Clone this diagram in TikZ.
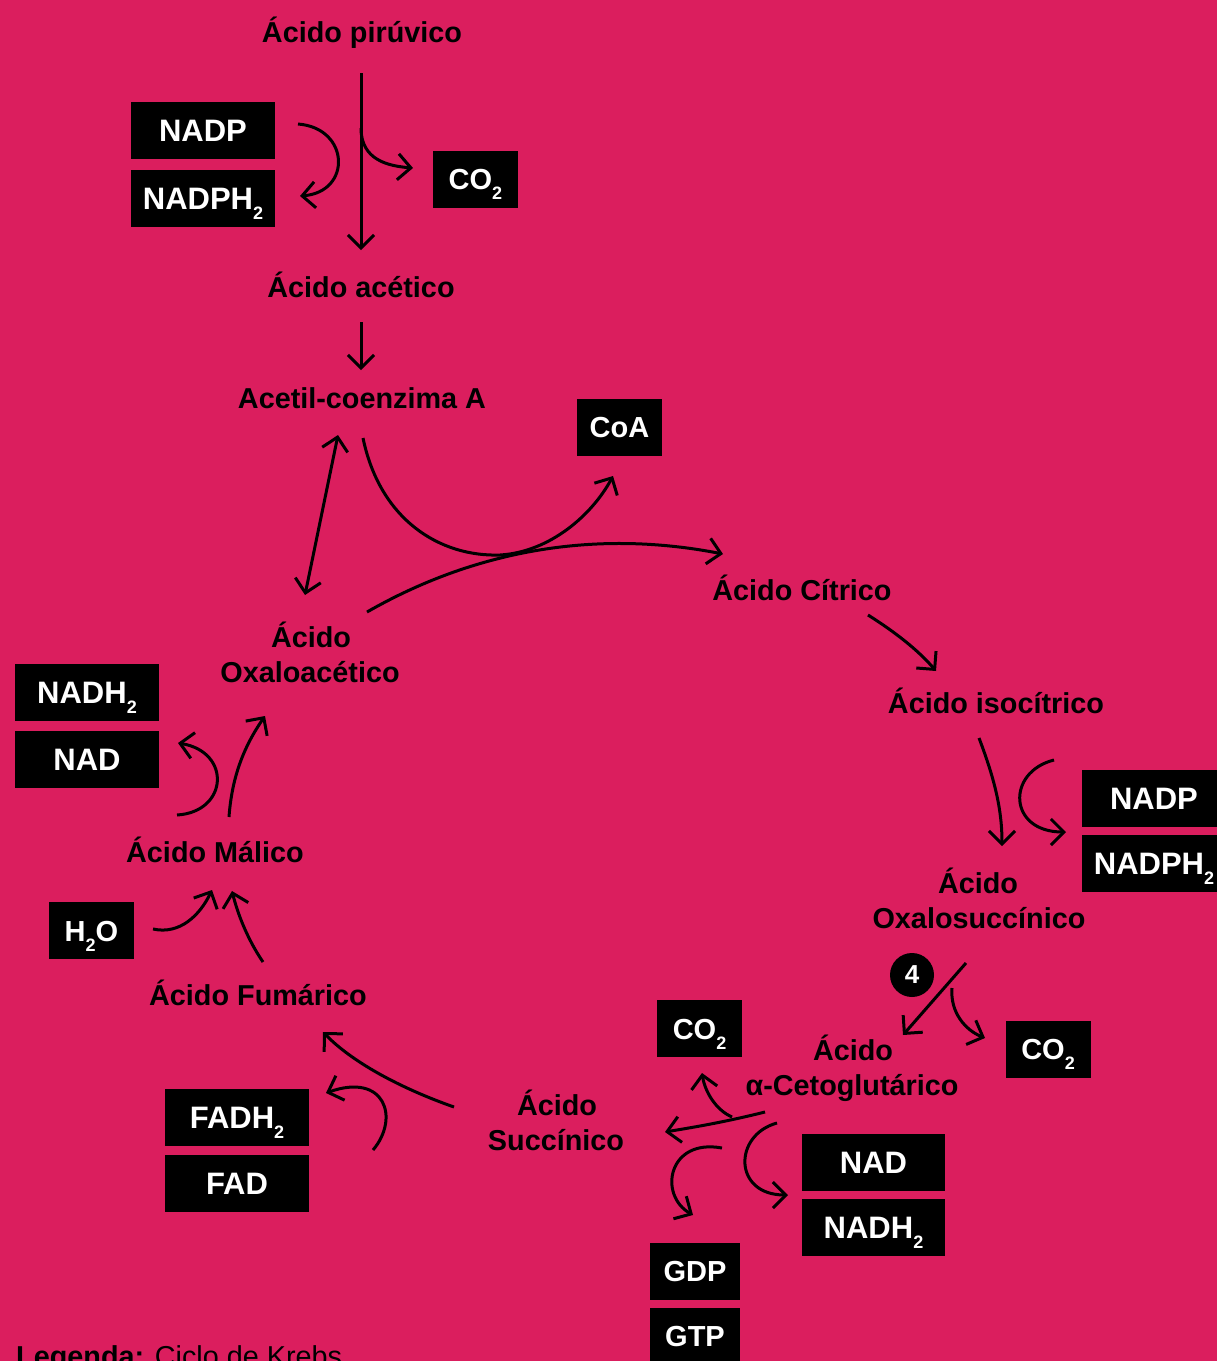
\documentclass[tikz,border=0pt]{standalone}
\usepackage{fontspec}
\setmainfont{Liberation Sans}
\usetikzlibrary{arrows.meta}
\definecolor{bgpink}{RGB}{219,30,94}
\newcommand{\subtwo}{\raisebox{-10pt}{\fontsize{18}{18}\selectfont 2}}
\begin{document}
\begin{tikzpicture}[x=1pt,y=-1pt,
  lbl/.style={anchor=base, text=black, inner sep=0pt, font=\bfseries\fontsize{28.8}{30}\selectfont},
  bbox/.style={fill=black, text=white, inner sep=0pt, text height=22pt, text depth=0pt,
     minimum width=144pt, minimum height=57pt, font=\bfseries\fontsize{31}{31}\selectfont},
  sbox/.style={bbox, minimum width=85pt, font=\bfseries\fontsize{29}{30}\selectfont, text height=21pt},
  arr/.style={line width=3pt, draw=black, -{Straight Barb[length=13pt,width=26pt]}},
  darr/.style={line width=3pt, draw=black, {Straight Barb[length=13pt,width=26pt]}-{Straight Barb[length=13pt,width=26pt]}}
]
\useasboundingbox (0,0) rectangle (1217,1361);
\clip (0,0) rectangle (1217,1361);
\fill[bgpink] (0,0) rectangle (1217,1361);

% text labels
\node[lbl] (piru) at (362,42) {Ácido pirúvico};
\node[lbl] (acet) at (361,297) {Ácido acético};
\node[lbl] (acoa) at (362,408) {Acetil-coenzima A};
\node[lbl] (citr) at (802,600) {Ácido Cítrico};
\node[lbl] (isoc) at (996,713) {Ácido isocítrico};
\node[lbl] (oxsA) at (978,893) {Ácido};
\node[lbl] (oxsB) at (979,928) {Oxalosuccínico};
\node[lbl] (akgA) at (853,1060) {Ácido};
\node[lbl] (akgB) at (852,1095) {α-Cetoglutárico};
\node[lbl] (sucA) at (557,1115) {Ácido};
\node[lbl] (sucB) at (556,1150) {Succínico};
\node[lbl] (fum) at (258,1005) {Ácido Fumárico};
\node[lbl] (mal) at (215,862) {Ácido Málico};
\node[lbl] (oxaA) at (311,647) {Ácido};
\node[lbl] (oxaB) at (310,682) {Oxaloacético};
\node[anchor=base west, inner sep=0pt, font=\fontsize{28.8}{30}\selectfont] (leg) at (16,1366) {\textbf{Legenda:} Ciclo de Krebs};

% boxes
\node[bbox] (nadpT) at (203,130.5) {NADP};
\node[bbox] (nadphT) at (203,198.5) {NADPH\subtwo};
\node[sbox] (co2T) at (475.5,179) {CO\subtwo};
\node[sbox] (coa) at (619.5,427) {CoA};
\node[bbox] (nadhL) at (87,692.5) {NADH\subtwo};
\node[bbox] (nadL) at (87,759.5) {NAD};
\node[sbox] (h2o) at (91.5,930.5) {H\subtwo O};
\node[bbox] (nadpR) at (1154,798) {NADP};
\node[bbox] (nadphR) at (1154,863.5) {NADPH\subtwo};
\node[sbox] (co2M) at (699.5,1028.5) {CO\subtwo};
\node[sbox] (co2R) at (1048,1049) {CO\subtwo};
\node[bbox, minimum width=143pt] (nadB) at (873.5,1162) {NAD};
\node[bbox, minimum width=143pt] (nadhB) at (873.5,1227.5) {NADH\subtwo};
\node[bbox] (fadh) at (237,1117) {FADH\subtwo};
\node[bbox] (fad) at (237,1183) {FAD};
\node[sbox, minimum width=90pt] (gdp) at (695,1271) {GDP};
\node[sbox, minimum width=90pt] (gtp) at (695,1336) {GTP};
\node[circle, fill=black, text=white, minimum size=44pt, inner sep=0pt, font=\bfseries\fontsize{26}{26}\selectfont] (four) at (912,975) {4};

% connector end points
\coordinate (p1) at (361,73);   \coordinate (p2) at (361,250);
\coordinate (p3) at (361,128);  \coordinate (p4) at (413,168);
\coordinate (p5) at (298,124);  \coordinate (p6) at (300,196);
\coordinate (p7) at (361,322);  \coordinate (p8) at (361,370);
\coordinate (p9) at (338,435);  \coordinate (p10) at (305,595);
\coordinate (p11) at (363,438); \coordinate (p12) at (500,555); \coordinate (p13) at (613,476);
\coordinate (p14) at (367,612); \coordinate (p15) at (723,554);
\coordinate (p16) at (868,615); \coordinate (p17) at (936,671);
\coordinate (p18) at (979,738); \coordinate (p19) at (1002,846);
\coordinate (p20) at (1054,760);\coordinate (p21) at (1066,832);
\coordinate (p22) at (966,963); \coordinate (p23) at (903,1035);
\coordinate (p24) at (952,988); \coordinate (p25) at (985,1038);
\coordinate (p26) at (765,1112);\coordinate (p27) at (665,1132);
\coordinate (p28) at (732,1117);\coordinate (p29) at (702,1073);
\coordinate (p30) at (777,1123);\coordinate (p31) at (788,1195);
\coordinate (p32) at (722,1148);\coordinate (p33) at (693,1215);
\coordinate (p34) at (454,1107);\coordinate (p35) at (323,1032);
\coordinate (p36) at (373,1150);\coordinate (p37) at (326,1093);
\coordinate (p38) at (263,962); \coordinate (p39) at (232,891);
\coordinate (p40) at (153,929); \coordinate (p41) at (212,890);
\coordinate (p42) at (229,817); \coordinate (p43) at (265,716);
\coordinate (p44) at (177,815); \coordinate (p45) at (178,743);

% connectors
\draw[arr] (p1) -- (p2);
\draw[arr] (p3) .. controls (361,160) and (388,166) .. (p4);
\draw[arr] (p5) .. controls (350,128) and (352,192) .. (p6);
\draw[arr] (p7) -- (p8);
\draw[darr] (p9) -- (p10);
\draw[arr] (p11) .. controls (380,520) and (440,557) .. (p12) .. controls (550,552) and (592,515) .. (p13);
\draw[arr] (p14) .. controls (470,553) and (590,528) .. (p15);
\draw[arr] (p16) .. controls (895,632) and (918,650) .. (p17);
\draw[arr] (p18) .. controls (995,780) and (1002,810) .. (p19);
\draw[arr] (p20) .. controls (1006,772) and (1008,832) .. (p21);
\draw[arr] (p22) -- (p23);
\draw[arr] (p24) .. controls (950,1012) and (965,1030) .. (p25);
\draw[arr] (p26) .. controls (725,1122) and (695,1127) .. (p27);
\draw[arr] (p28) .. controls (716,1110) and (705,1092) .. (p29);
\draw[arr] (p30) .. controls (733,1135) and (733,1195) .. (p31);
\draw[arr] (p32) .. controls (668,1138) and (658,1195) .. (p33);
\draw[arr] (p34) .. controls (400,1088) and (352,1062) .. (p35);
\draw[arr] (p36) .. controls (400,1118) and (385,1072) .. (p37);
\draw[arr] (p38) .. controls (248,940) and (238,915) .. (p39);
\draw[arr] (p40) .. controls (180,935) and (200,915) .. (p41);
\draw[arr] (p42) .. controls (232,775) and (245,745) .. (p43);
\draw[arr] (p44) .. controls (228,812) and (232,752) .. (p45);
\end{tikzpicture}
\end{document}
